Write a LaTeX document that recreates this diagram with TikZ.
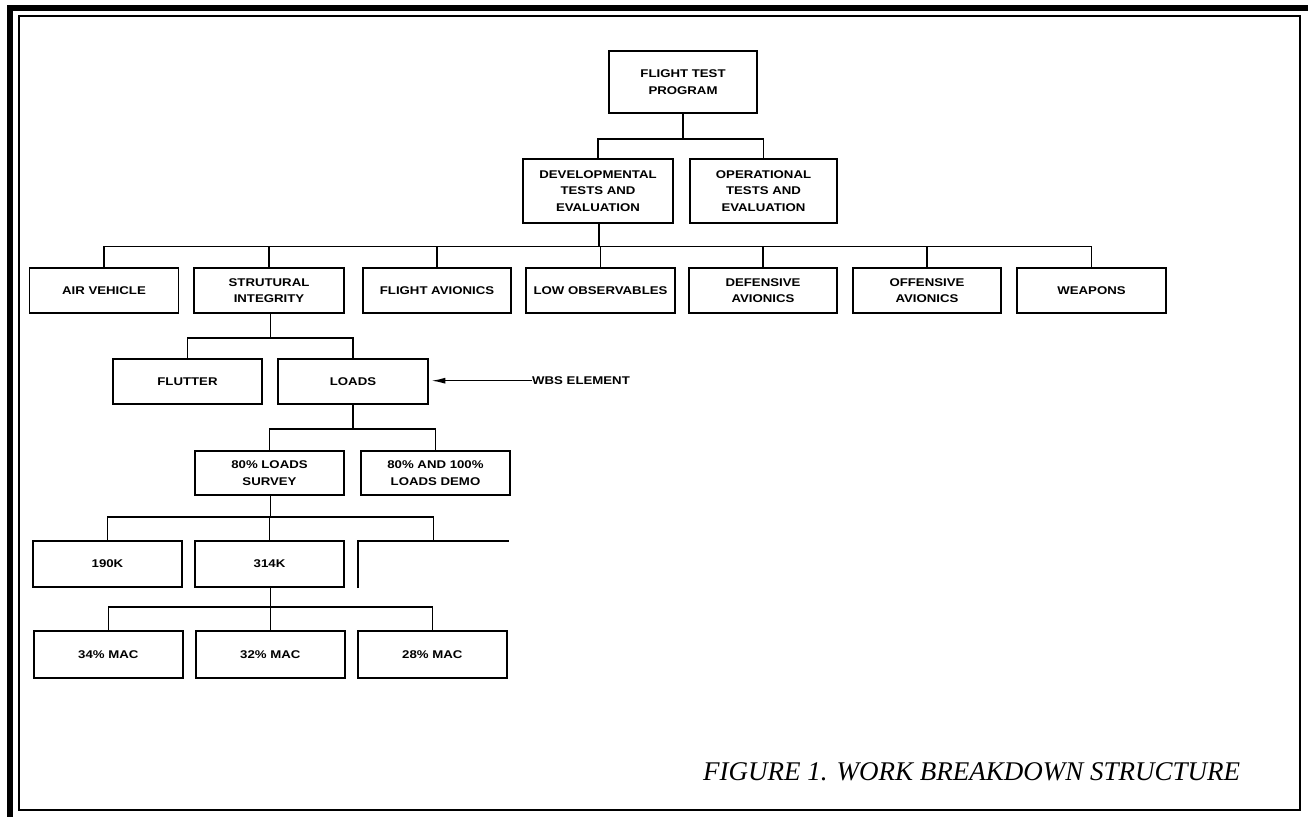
\documentclass[tikz,border=0pt]{standalone}
\usepackage{fontspec}
\usetikzlibrary{arrows.meta}
\newfontfamily\lbl{Liberation Sans}[FakeStretch=1.18]
\newfontfamily\capfont{Liberation Serif}
\begin{document}
\begin{tikzpicture}[x=1pt,y=-1pt,
  bx/.style={draw,line width=1.6pt,align=center,inner sep=0pt,
    font=\lbl\bfseries\fontsize{11.2}{16.5}\selectfont},
  wire/.style={line width=1.5pt},
  frame/.style={line width=1.5pt}]
\useasboundingbox (0,0) rectangle (1308,817);
% page frame: heavy rule at top and left, thin inner border
\fill (7,5) rectangle (1308,11);
\fill (7,5) rectangle (13,817);
\draw[frame] (19,16) rectangle (1300,810);

% level 0 and 1
\node[bx,minimum width=148,minimum height=62] (prog) at (683,82) {FLIGHT TEST\\PROGRAM};
\node[bx,minimum width=150,minimum height=64] (dev) at (598,191) {DEVELOPMENTAL\\TESTS AND\\EVALUATION};
\node[bx,minimum width=147,minimum height=64] (ops) at (763.5,191) {OPERATIONAL\\TESTS AND\\EVALUATION};

% level 2
\node[bx,minimum width=149,minimum height=45] (air) at (104,290.5) {AIR VEHICLE};
\node[bx,minimum width=150,minimum height=45] (strut) at (269,290.5) {STRUTURAL\\INTEGRITY};
\node[bx,minimum width=148,minimum height=45] (flav) at (437,290.5) {FLIGHT AVIONICS};
\node[bx,minimum width=149,minimum height=45] (lowobs) at (600.5,290.5) {LOW OBSERVABLES};
\node[bx,minimum width=148,minimum height=45] (def) at (763,290.5) {DEFENSIVE\\AVIONICS};
\node[bx,minimum width=148,minimum height=45] (off) at (927,290.5) {OFFENSIVE\\AVIONICS};
\node[bx,minimum width=149,minimum height=45] (weap) at (1091.5,290.5) {WEAPONS};

% level 3
\node[bx,minimum width=149,minimum height=45] (flutter) at (187.5,381.5) {FLUTTER};
\node[bx,minimum width=150,minimum height=45] (loads) at (353,381.5) {LOADS};

% level 4
\node[bx,minimum width=149,minimum height=44] (survey) at (269.5,473) {80\% LOADS\\SURVEY};
\node[bx,minimum width=149,minimum height=44] (demo) at (435.5,473) {80\% AND 100\%\\LOADS DEMO};

% level 5
\node[bx,minimum width=149,minimum height=46] (k190) at (107.5,564) {190K};
\node[bx,minimum width=149,minimum height=46] (k314) at (269.5,564) {314K};
\coordinate (cutbl) at (358,588);
\coordinate (cuttl) at (358,541);
\coordinate (cuttr) at (509,541);
\coordinate (cut) at (433.5,541);
\draw[line width=1.6pt] (cutbl) -- (cuttl) -- (cuttr);

% level 6
\node[bx,minimum width=149,minimum height=47] (mac34) at (108.3,654.5) {34\% MAC};
\node[bx,minimum width=149,minimum height=47] (mac32) at (270.3,654.5) {32\% MAC};
\node[bx,minimum width=149,minimum height=47] (mac28) at (432.3,654.5) {28\% MAC};

% connectors
\foreach \c in {dev,ops} \draw[wire] (prog.south) -- ++(0,25) -| (\c.north);
\foreach \c in {air,strut,flav,lowobs,def,off,weap} \draw[wire] ([xshift=1pt]dev.south) -- ++(0,22.7) -| (\c.north);
\foreach \c in {flutter,loads} \draw[wire] ([xshift=1.6pt]strut.south) -- ++(0,24) -| (\c.north);
\foreach \c in {survey,demo} \draw[wire] (loads.south) -- ++(0,24) -| (\c.north);
\foreach \c in {k190,k314,cut} \draw[wire] ([xshift=1pt]survey.south) -- ++(0,21) -| (\c);
\foreach \c in {mac34,mac32,mac28} \draw[wire] ([xshift=1pt]k314.south) -- ++(0,19) -| (\c.north);

% annotation
\node[anchor=west,inner sep=0pt,font=\lbl\bfseries\fontsize{11.2}{13}\selectfont] (wbs) at (532,380.7) {WBS ELEMENT};
\draw[wire,-{Latex[length=14pt,width=6pt]},shorten >=2.5pt] (wbs.west) -- (wbs.west -| loads.east);

% caption
\node[anchor=base west,inner sep=0pt,font=\capfont\itshape\fontsize{27}{30}\selectfont] (cap) at (703,780) {FIGURE 1. WORK BREAKDOWN STRUCTURE};
\end{tikzpicture}
\end{document}
